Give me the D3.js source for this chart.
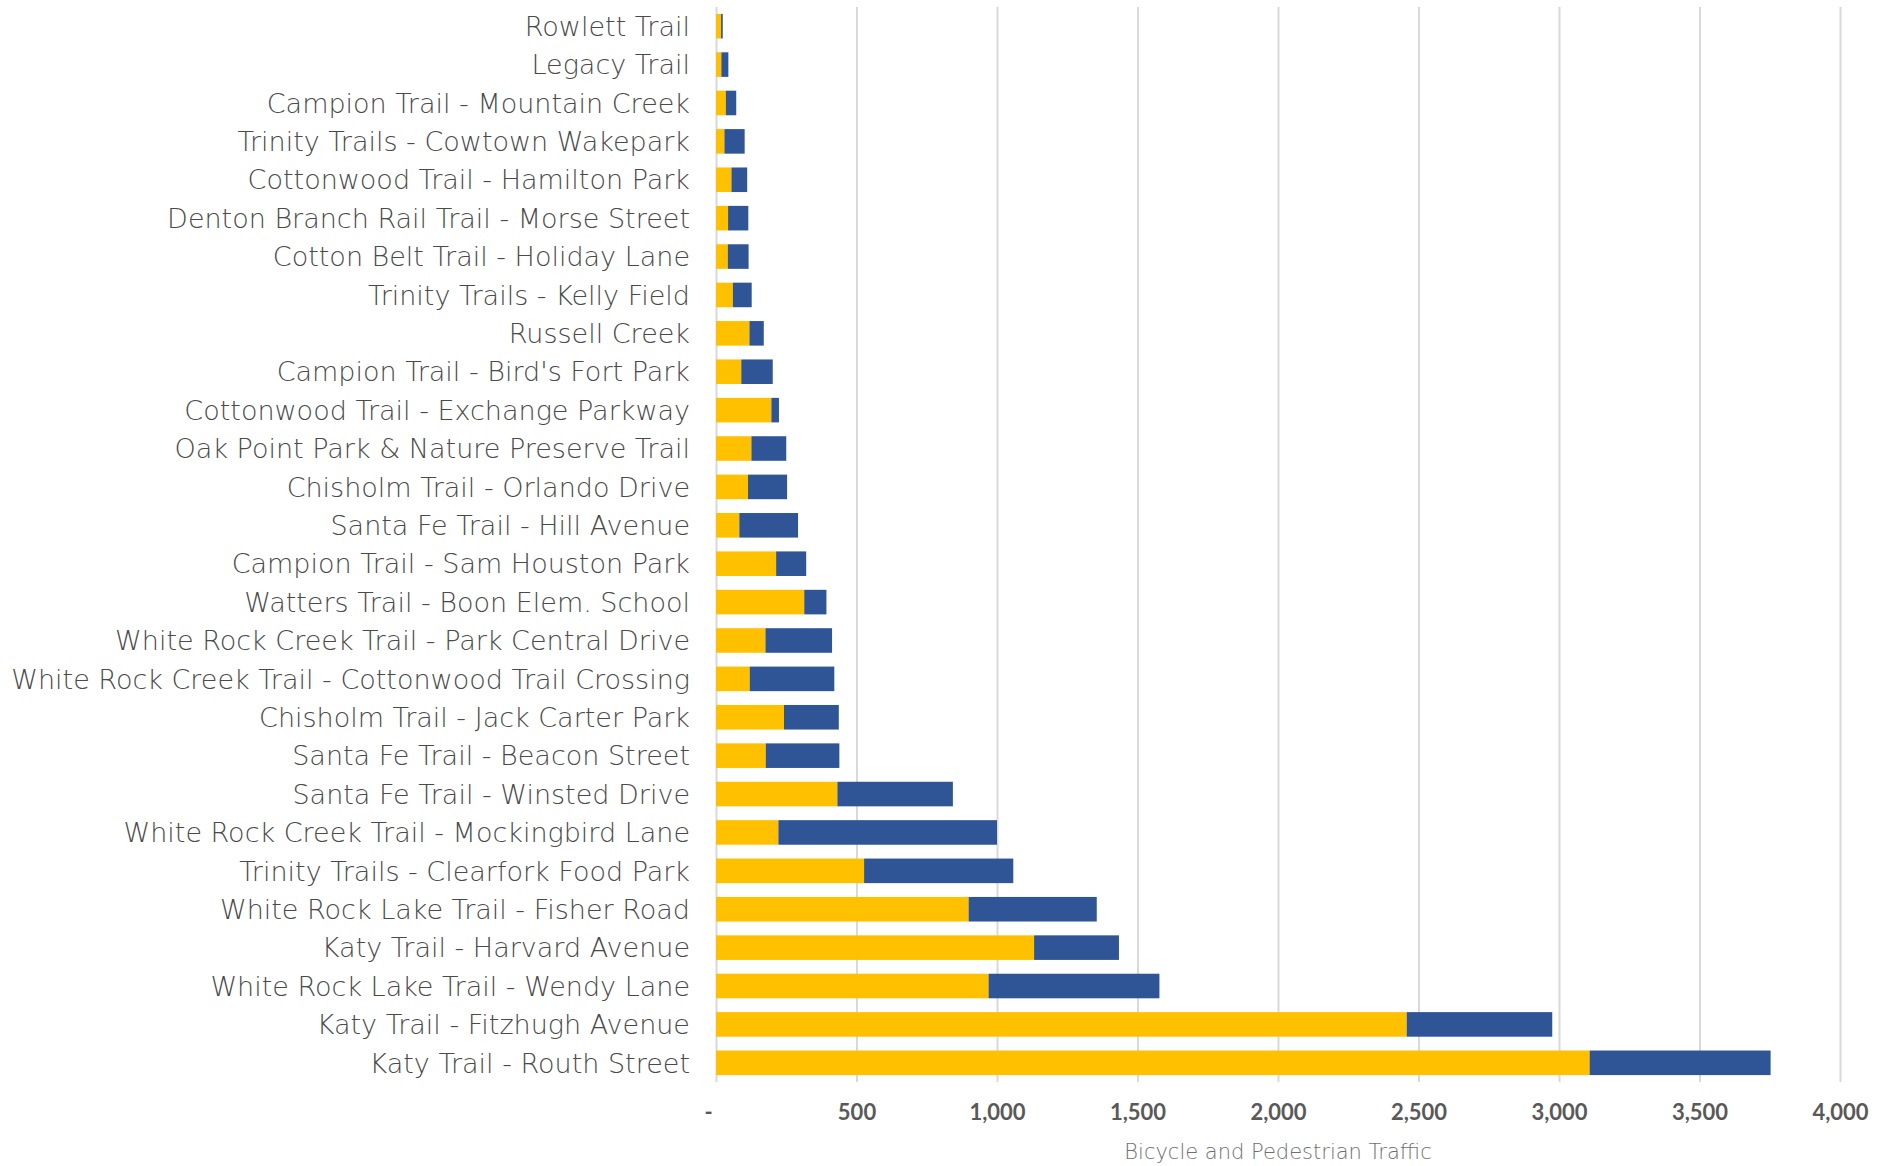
<!DOCTYPE html>
<html>
<head>
<meta charset="utf-8">
<script src="https://cdn.jsdelivr.net/npm/d3@7"></script>
<style>
  body { margin: 0; background: #fff; }
  svg { display: block; }
</style>
</head>
<body>
<div id="chart"></div>
<script>
// Trail count sites, top of chart first
const trails = [
  'Rowlett Trail',
  'Legacy Trail',
  'Campion Trail - Mountain Creek',
  'Trinity Trails - Cowtown Wakepark',
  'Cottonwood Trail - Hamilton Park',
  'Denton Branch Rail Trail - Morse Street',
  'Cotton Belt Trail - Holiday Lane',
  'Trinity Trails - Kelly Field',
  'Russell Creek',
  "Campion Trail - Bird's Fort Park ",
  'Cottonwood Trail - Exchange Parkway',
  'Oak Point Park & Nature Preserve Trail',
  'Chisholm Trail - Orlando Drive',
  'Santa Fe Trail - Hill Avenue',
  'Campion Trail - Sam Houston Park ',
  'Watters Trail - Boon Elem. School',
  'White Rock Creek Trail - Park Central Drive',
  'White Rock Creek Trail - Cottonwood Trail Crossing',
  'Chisholm Trail - Jack Carter Park',
  'Santa Fe Trail - Beacon Street',
  'Santa Fe Trail - Winsted Drive',
  'White Rock Creek Trail - Mockingbird Lane',
  'Trinity Trails - Clearfork Food Park',
  'White Rock Lake Trail - Fisher Road',
  'Katy Trail - Harvard Avenue',
  'White Rock Lake Trail - Wendy Lane',
  'Katy Trail - Fitzhugh Avenue',
  'Katy Trail - Routh Street'
];

// yellow segment
const firstSeries = [18, 19, 35, 30, 55, 43, 42, 60, 119, 90, 197, 126, 114, 83,
  214, 314, 176, 120, 242, 177, 432, 222, 527, 899, 1132, 970, 2458, 3109];
// blue segment
const secondSeries = [6, 25, 37, 72, 56, 72, 74, 67, 51, 112, 27, 124, 139, 209,
  107, 79, 237, 301, 195, 262, 411, 778, 531, 456, 302, 608, 518, 644];

const xTicks = [0, 500, 1000, 1500, 2000, 2500, 3000, 3500, 4000];
const xTitle = 'Bicycle and Pedestrian Traffic';
const colors = ['#FFC000', '#2F5597'];
const labelFont = '"DejaVu Sans", sans-serif';

const width = 1898;
const height = 1166;
const margin = {top: 7, right: 58, bottom: 84, left: 716};
const innerW = width - margin.left - margin.right;
const innerH = height - margin.top - margin.bottom;

const rows = trails.map((t, i) => ({trail: t, a: firstSeries[i], b: secondSeries[i]}));

const svg = d3.select('#chart')
  .append('svg')
  .attr('width', width)
  .attr('height', height);

const g = svg.append('g')
  .attr('transform', 'translate(' + margin.left + ',' + margin.top + ')');

const x = d3.scaleLinear().domain([0, 4000]).range([0, innerW]);
const y = d3.scaleBand().domain(trails).range([0, innerH])
  .paddingInner(0.36).paddingOuter(0.18);

// gridlines + tick labels
const xAxis = g.append('g')
  .attr('transform', 'translate(0,' + innerH + ')')
  .call(d3.axisBottom(x)
    .tickValues(xTicks)
    .tickSize(-innerH)
    .tickPadding(22)
    .tickFormat(d => d === 0 ? '-' : d3.format(',')(d)));

xAxis.select('.domain').remove();
xAxis.selectAll('.tick line')
  .attr('stroke', '#d9d9d9')
  .attr('stroke-width', 2);
xAxis.selectAll('.tick text')
  .attr('fill', '#595959')
  .attr('dx', d => d === 0 ? -8 : 0)
  .style('font-family', 'Lato, "Open Sans", sans-serif')
  .style('font-weight', 'bold')
  .style('font-size', '22px');

const stack = d3.stack().keys(['a', 'b'])(rows);

g.selectAll('.series')
  .data(stack)
  .enter()
  .append('g')
  .attr('fill', (d, i) => colors[i])
  .selectAll('rect')
  .data(d => d)
  .enter()
  .append('rect')
  .attr('x', d => x(d[0]))
  .attr('y', d => y(d.data.trail))
  .attr('width', d => x(d[1]) - x(d[0]))
  .attr('height', y.bandwidth());

// category labels
g.append('g')
  .selectAll('text')
  .data(trails)
  .enter()
  .append('text')
  .attr('x', -26)
  .attr('y', d => y(d) + y.bandwidth() / 2)
  .attr('dy', '0.36em')
  .attr('text-anchor', 'end')
  .attr('fill', '#4a4a4a')
  .style('font-family', labelFont)
  .style('font-weight', 200)
  .style('font-size', '27px')
  .text(d => d);

svg.append('text')
  .attr('x', margin.left + innerW / 2)
  .attr('y', 1159)
  .attr('text-anchor', 'middle')
  .attr('fill', '#6f6f6f')
  .style('font-family', labelFont)
  .style('font-weight', 200)
  .style('font-size', '21px')
  .text(xTitle);
</script>
</body>
</html>
